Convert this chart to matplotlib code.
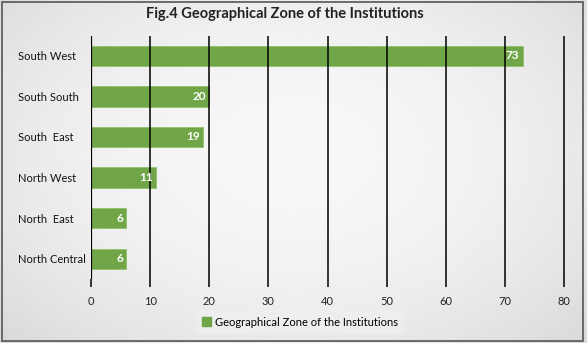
import numpy as np
import matplotlib
matplotlib.use("Agg")
import matplotlib.pyplot as plt
from matplotlib.patches import Rectangle

categories = ["South West", "South South", "South  East", "North West", "North  East", "North Central"]
values = [73, 20, 19, 11, 6, 6]
xticks = [0, 10, 20, 30, 40, 50, 60, 70, 80]
title = "Fig.4 Geographical Zone of the Institutions"
series_name = "Geographical Zone of the Institutions"

plt.rcParams['font.family'] = ['Lato', 'DejaVu Sans']
W, H = 587, 343
fig = plt.figure(figsize=(W/100, H/100), dpi=100)

# background gradient
bg = fig.add_axes([0, 0, 1, 1], zorder=-10)
yy, xx = np.mgrid[0:1:200j, 0:1:300j]
r = np.sqrt(((xx-0.5)/0.75)**2 + ((yy-0.45)/0.85)**2)
img = 0.97 - 0.14*np.clip(r, 0, 1)**2
bg.imshow(img, cmap='gray', vmin=0, vmax=1, aspect='auto', extent=[0, 1, 0, 1])
bg.add_patch(Rectangle((0.004, 0.006), 0.99, 0.988, fill=False, ec='#555555', lw=1.2, transform=bg.transAxes))
bg.set_axis_off()

ax = fig.add_axes([91/W, 1-279/H, (566-91)/W, (279-35.5)/H])
ax.patch.set_alpha(0)
y = np.arange(len(categories))
ax.barh(y, values, height=0.5, color='#70a548', edgecolor='#8fc36a', lw=0.6, zorder=2)
for yi, v in zip(y, values):
    ax.text(v - 0.6, yi, str(v), ha='right', va='center', color='white', fontsize=8.5, fontweight='bold', zorder=4)
ax.set_xlim(0, 80.3)
ax.set_ylim(len(categories)-0.5, -0.5)
for xt in xticks:
    ax.axvline(xt, color='black', lw=1.6 if xt == 0 else 1.1, zorder=3)
ax.set_xticks(xticks)
ax.tick_params(axis='x', length=6, width=1.1, color='black', labelsize=8, pad=6, labelcolor='#222222')
ax.set_yticks(y)
ax.set_yticklabels(categories, fontsize=8, color='#111111', ha='left')
ax.tick_params(axis='y', length=0, pad=52.5)
for s in ax.spines.values():
    s.set_visible(False)
ax.set_axisbelow(False)

fig.text(285/W, 1-14/H, title, ha='center', va='center', fontsize=10.5, fontweight='bold', color='#222222')

h = Rectangle((0, 0), 1, 1, color='#70a548')
leg = fig.legend([h], [series_name], loc='center', bbox_to_anchor=(300/W, 1-322/H), fontsize=8,
                 frameon=True, handlelength=0.8, handleheight=0.8, handletextpad=0.3, borderpad=0.6,
                 fancybox=False, borderaxespad=0)
leg.get_frame().set_facecolor('#efefef')
leg.get_frame().set_edgecolor('none')

fig.savefig("out.png", dpi=100)
